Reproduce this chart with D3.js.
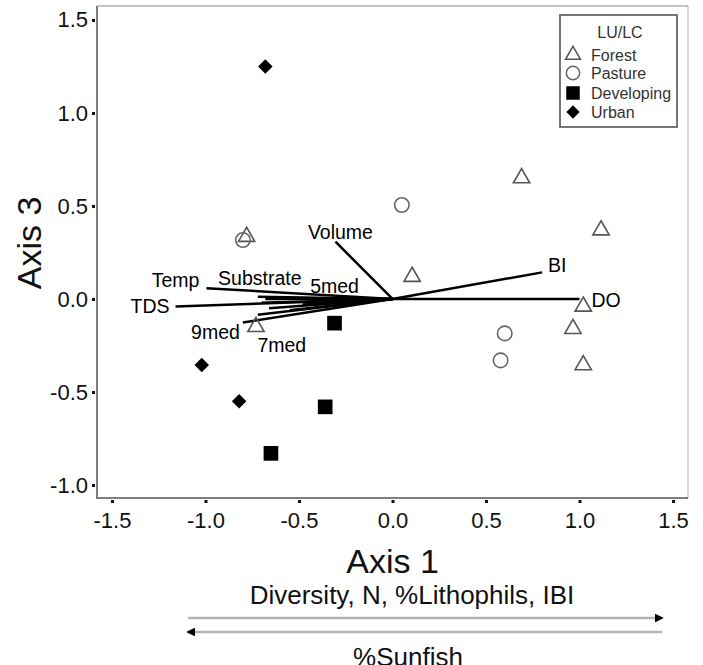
<!DOCTYPE html>
<html><head><meta charset="utf-8">
<script src="https://cdn.jsdelivr.net/npm/d3@7"></script>
<style>body{margin:0;background:#fff}svg{display:block;font-family:"Liberation Sans",Arial,sans-serif}</style>
</head><body><svg id="c" width="703" height="665"></svg>
<script>
// ---- data ----
const groups = ["Forest", "Pasture", "Developing", "Urban"];
const forestX = [-0.78, 0.105, 0.69, 1.115, 1.02, 0.965, 1.02, -0.73];
const forestY = [0.335, 0.12, 0.65, 0.37, -0.04, -0.16, -0.355, -0.15];
const pastureX = [0.05, -0.80, 0.60, 0.578];
const pastureY = [0.505, 0.317, -0.185, -0.33];
const developingX = [-0.31, -0.36, -0.65];
const developingY = [-0.13, -0.58, -0.83];
const urbanX = [-0.68, -1.02, -0.82];
const urbanY = [1.25, -0.355, -0.55];

const vectorNames = ["Volume", "BI", "DO", "TDS", "Temp", "Substrate", "5med", "7med", "9med", "", "", "", "", ""];
const vectorX = [-0.305, 0.80, 1.0, -1.16, -0.995, -0.72, -0.62, -0.72, -0.80, -0.70, -0.66, -0.55, -0.68, -0.48];
const vectorY = [0.308, 0.143, 0.0, -0.04, 0.058, 0.012, 0.005, -0.085, -0.127, -0.02, -0.05, -0.06, 0.0, -0.03];

const xTicks = [-1.5, -1.0, -0.5, 0.0, 0.5, 1.0, 1.5];
const yTicks = [-1.0, -0.5, 0.0, 0.5, 1.0, 1.5];
const xTitle = "Axis 1", yTitle = "Axis 3";
const legendTitle = "LU/LC";
const gradientUp = "Diversity, N, %Lithophils, IBI";
const gradientDown = "%Sunfish";

// ---- layout ----
const svg = d3.select("#c");
const L = 97, R = 688, T = 6, B = 498;
const x = d3.scaleLinear().domain([-1.58, 1.58]).range([L, R]);
const y = d3.scaleLinear().domain([-1.07, 1.575]).range([B, T]);
const font = '"Liberation Sans", Arial, sans-serif';
const fmt = d => d.toFixed(1);

// frame
svg.append("line").attr("x1", L).attr("x2", R).attr("y1", T).attr("y2", T).attr("stroke", "#888").attr("stroke-width", 1.2);
svg.append("line").attr("x1", R).attr("x2", R).attr("y1", T).attr("y2", B).attr("stroke", "#bbb").attr("stroke-width", 1.2);
svg.append("line").attr("x1", L).attr("x2", L).attr("y1", T).attr("y2", B + 1).attr("stroke", "#555").attr("stroke-width", 1.5);
svg.append("line").attr("x1", L).attr("x2", R).attr("y1", B).attr("y2", B).attr("stroke", "#555").attr("stroke-width", 1.5);

// axes via d3 axis
const xAxis = d3.axisBottom(x).tickValues(xTicks).tickFormat(fmt).tickSize(4).tickPadding(9);
const gx = svg.append("g").attr("transform", `translate(0,${B + 1})`).call(xAxis);
gx.select(".domain").remove();
gx.selectAll(".tick line").attr("stroke", "#111").attr("stroke-width", 3).attr("y1", 1);
gx.selectAll(".tick text").attr("font-family", font).attr("font-size", 22).attr("fill", "#111");

const yAxis = d3.axisLeft(y).tickValues(yTicks).tickFormat(fmt).tickSize(4).tickPadding(4);
const gy = svg.append("g").attr("transform", `translate(${L - 1},0)`).call(yAxis);
gy.select(".domain").remove();
gy.selectAll(".tick line").attr("stroke", "#111").attr("stroke-width", 3).attr("x1", -1);
gy.selectAll(".tick text").attr("font-family", font).attr("font-size", 22).attr("fill", "#111");

// titles
svg.append("text").attr("x", x(0)).attr("y", 573).attr("text-anchor", "middle")
  .attr("font-family", font).attr("font-size", 34).attr("fill", "#111").text(xTitle);
svg.append("text").attr("transform", `translate(41,243) rotate(-90)`).attr("text-anchor", "middle")
  .attr("font-family", font).attr("font-size", 34).attr("fill", "#111").text(yTitle);

// vectors
const vecs = vectorNames.map((n, i) => ({ n, vx: vectorX[i], vy: vectorY[i] }));
svg.append("g").selectAll("line").data(vecs).join("line")
  .attr("x1", x(0)).attr("y1", y(0)).attr("x2", d => x(d.vx)).attr("y2", d => y(d.vy))
  .attr("stroke", "#000").attr("stroke-width", 2.5);

const labelPos = {
  Volume: [5, -10, "middle"], BI: [6, -7, "start"], DO: [12, 1, "start"], TDS: [-6, 0, "end"],
  Temp: [-7, -8, "end"], Substrate: [2, -19, "middle"], "5med": [58, -12, "middle"],
  "7med": [24, 30, "middle"], "9med": [-3, 9, "end"]
};
svg.append("g").selectAll("text").data(vecs.filter(d => d.n)).join("text")
  .attr("x", d => x(d.vx) + labelPos[d.n][0]).attr("y", d => y(d.vy) + labelPos[d.n][1])
  .attr("text-anchor", d => labelPos[d.n][2]).attr("dominant-baseline", "central")
  .attr("font-family", font).attr("font-size", 19.5).attr("fill", "#000").text(d => d.n);

// points
const symDefs = {
  Forest: { type: d3.symbolTriangle, size: 115, fill: "none", stroke: "#555", rot: 0 },
  Pasture: { type: d3.symbolCircle, size: 165, fill: "none", stroke: "#666", rot: 0 },
  Developing: { type: d3.symbolSquare, size: 215, fill: "#000", stroke: "none", rot: 0 },
  Urban: { type: d3.symbolSquare, size: 105, fill: "#000", stroke: "none", rot: 45 }
};
const groupData = {
  Forest: forestX.map((v, i) => [v, forestY[i]]),
  Pasture: pastureX.map((v, i) => [v, pastureY[i]]),
  Developing: developingX.map((v, i) => [v, developingY[i]]),
  Urban: urbanX.map((v, i) => [v, urbanY[i]])
};
groups.forEach(g => {
  const s = symDefs[g];
  svg.append("g").selectAll("path").data(groupData[g]).join("path")
    .attr("d", d3.symbol().type(s.type).size(s.size))
    .attr("transform", d => `translate(${x(d[0])},${y(d[1])}) rotate(${s.rot})`)
    .attr("fill", s.fill).attr("stroke", s.stroke).attr("stroke-width", 1.6);
});

// legend
const lg = svg.append("g");
lg.append("rect").attr("x", 560).attr("y", 15).attr("width", 117).attr("height", 112)
  .attr("fill", "#fff").attr("stroke", "#666").attr("stroke-width", 1.8);
lg.append("text").attr("x", 620).attr("y", 32).attr("text-anchor", "middle").attr("dominant-baseline", "central")
  .attr("font-family", font).attr("font-size", 16).attr("fill", "#333").text(legendTitle);
const legY = [55, 73, 93, 112];
groups.forEach((g, i) => {
  const s = symDefs[g];
  lg.append("path").attr("d", d3.symbol().type(s.type).size(s.size * 0.85))
    .attr("transform", `translate(573,${legY[i]}) rotate(${s.rot})`)
    .attr("fill", s.fill).attr("stroke", s.stroke).attr("stroke-width", 1.5);
  lg.append("text").attr("x", 591).attr("y", legY[i]).attr("dominant-baseline", "central")
    .attr("font-family", font).attr("font-size", 16).attr("fill", "#333").text(g);
});

// gradient arrows
const defs = svg.append("defs");
defs.append("marker").attr("id", "ah").attr("viewBox", "0 0 10 10").attr("refX", 8).attr("refY", 5)
  .attr("markerWidth", 3.5).attr("markerHeight", 3.5).attr("orient", "auto-start-reverse")
  .append("path").attr("d", "M0,0 L10,5 L0,10 Z").attr("fill", "#000");
svg.append("text").attr("x", 412).attr("y", 604).attr("text-anchor", "middle")
  .attr("font-family", font).attr("font-size", 26).attr("fill", "#111").text(gradientUp);
svg.append("line").attr("x1", 188).attr("x2", 662).attr("y1", 618).attr("y2", 618)
  .attr("stroke", "#b4b4b4").attr("stroke-width", 2.5).attr("marker-end", "url(#ah)");
svg.append("line").attr("x1", 662).attr("x2", 188).attr("y1", 632).attr("y2", 632)
  .attr("stroke", "#b4b4b4").attr("stroke-width", 2.5).attr("marker-end", "url(#ah)");
svg.append("text").attr("x", 408).attr("y", 666).attr("text-anchor", "middle")
  .attr("font-family", font).attr("font-size", 26).attr("fill", "#111").text(gradientDown);
</script></body></html>
